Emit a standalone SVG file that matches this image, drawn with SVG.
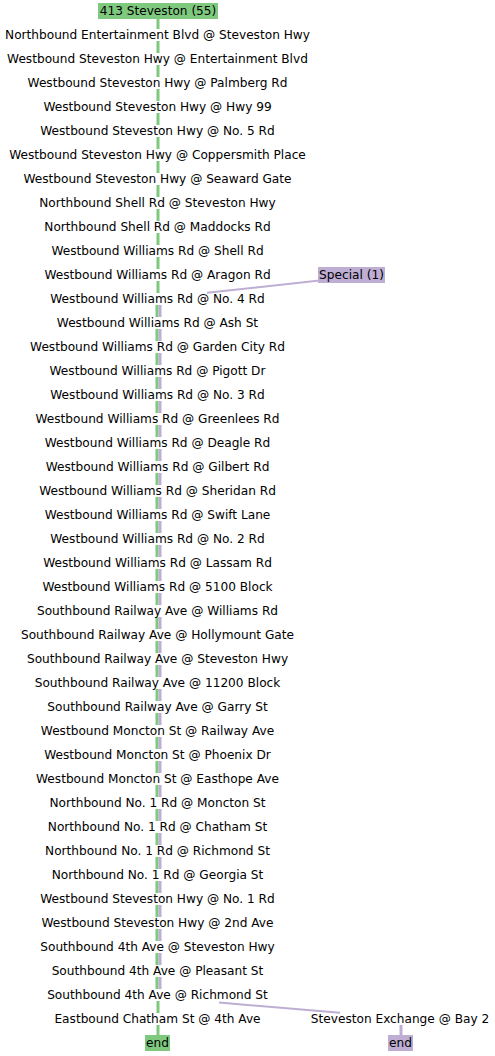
<svg xmlns="http://www.w3.org/2000/svg" width="495" height="1056" viewBox="0 0 495 1056">
<style>
text{font-family:"DejaVu Sans","Liberation Sans",sans-serif;font-size:12.15px;fill:#000;text-anchor:middle}
.g{stroke:#7fc97f;stroke-width:3;fill:none}
.p{stroke:#beaed4;stroke-width:3;fill:none}
.d{stroke:#beaed4;stroke-width:2;fill:none}
.m{fill:#fff}
.gb{fill:#7fc97f}
.pb{fill:#beaed4}
</style>
<rect width="495" height="1056" fill="#fff"/>
<g id="connectors">
<path class="g" d="M158,19V299H157V995H158V1035"/>
<path class="p" d="M160,299V995"/>
<path class="d" d="M207,292.8L351,277"/>
<path class="d" d="M219,1002.6L340,1012.7"/>
<path class="p" d="M401,1019V1035"/>
</g>
<g id="route-413">
<rect class="gb" x="98" y="3" width="120" height="16"/>
<text x="158" y="15.3">413 Steveston (55)</text>
</g>
<g id="special">
<rect class="pb" x="318" y="267" width="67" height="16"/>
<text x="351.5" y="279.3">Special (1)</text>
</g>
<g id="stops">
<g id="s1"><rect class="m" x="148" y="29" width="20" height="12"/><text x="157.5" y="39.3">Northbound Entertainment Blvd @ Steveston Hwy</text></g>
<g id="s2"><rect class="m" x="148" y="53" width="20" height="12"/><text x="157.5" y="63.3">Westbound Steveston Hwy @ Entertainment Blvd</text></g>
<g id="s3"><rect class="m" x="148" y="77" width="20" height="12"/><text x="157.5" y="87.3">Westbound Steveston Hwy @ Palmberg Rd</text></g>
<g id="s4"><rect class="m" x="148" y="101" width="20" height="12"/><text x="157.5" y="111.3">Westbound Steveston Hwy @ Hwy 99</text></g>
<g id="s5"><rect class="m" x="148" y="125" width="20" height="12"/><text x="157.5" y="135.3">Westbound Steveston Hwy @ No. 5 Rd</text></g>
<g id="s6"><rect class="m" x="148" y="149" width="20" height="12"/><text x="157.5" y="159.3">Westbound Steveston Hwy @ Coppersmith Place</text></g>
<g id="s7"><rect class="m" x="148" y="173" width="20" height="12"/><text x="157.5" y="183.3">Westbound Steveston Hwy @ Seaward Gate</text></g>
<g id="s8"><rect class="m" x="148" y="197" width="20" height="12"/><text x="157.5" y="207.3">Northbound Shell Rd @ Steveston Hwy</text></g>
<g id="s9"><rect class="m" x="148" y="221" width="20" height="12"/><text x="157.5" y="231.3">Northbound Shell Rd @ Maddocks Rd</text></g>
<g id="s10"><rect class="m" x="148" y="245" width="20" height="12"/><text x="157.5" y="255.3">Westbound Williams Rd @ Shell Rd</text></g>
<g id="s11"><rect class="m" x="148" y="269" width="20" height="12"/><text x="157.5" y="279.3">Westbound Williams Rd @ Aragon Rd</text></g>
<g id="s12"><rect class="m" x="148" y="293" width="20" height="12"/><text x="157.5" y="303.3">Westbound Williams Rd @ No. 4 Rd</text></g>
<g id="s13"><rect class="m" x="148" y="317" width="20" height="12"/><text x="157.5" y="327.3">Westbound Williams Rd @ Ash St</text></g>
<g id="s14"><rect class="m" x="148" y="341" width="20" height="12"/><text x="157.5" y="351.3">Westbound Williams Rd @ Garden City Rd</text></g>
<g id="s15"><rect class="m" x="148" y="365" width="20" height="12"/><text x="157.5" y="375.3">Westbound Williams Rd @ Pigott Dr</text></g>
<g id="s16"><rect class="m" x="148" y="389" width="20" height="12"/><text x="157.5" y="399.3">Westbound Williams Rd @ No. 3 Rd</text></g>
<g id="s17"><rect class="m" x="148" y="413" width="20" height="12"/><text x="157.5" y="423.3">Westbound Williams Rd @ Greenlees Rd</text></g>
<g id="s18"><rect class="m" x="148" y="437" width="20" height="12"/><text x="157.5" y="447.3">Westbound Williams Rd @ Deagle Rd</text></g>
<g id="s19"><rect class="m" x="148" y="461" width="20" height="12"/><text x="157.5" y="471.3">Westbound Williams Rd @ Gilbert Rd</text></g>
<g id="s20"><rect class="m" x="148" y="485" width="20" height="12"/><text x="157.5" y="495.3">Westbound Williams Rd @ Sheridan Rd</text></g>
<g id="s21"><rect class="m" x="148" y="509" width="20" height="12"/><text x="157.5" y="519.3">Westbound Williams Rd @ Swift Lane</text></g>
<g id="s22"><rect class="m" x="148" y="533" width="20" height="12"/><text x="157.5" y="543.3">Westbound Williams Rd @ No. 2 Rd</text></g>
<g id="s23"><rect class="m" x="148" y="557" width="20" height="12"/><text x="157.5" y="567.3">Westbound Williams Rd @ Lassam Rd</text></g>
<g id="s24"><rect class="m" x="148" y="581" width="20" height="12"/><text x="157.5" y="591.3">Westbound Williams Rd @ 5100 Block</text></g>
<g id="s25"><rect class="m" x="148" y="605" width="20" height="12"/><text x="157.5" y="615.3">Southbound Railway Ave @ Williams Rd</text></g>
<g id="s26"><rect class="m" x="148" y="629" width="20" height="12"/><text x="157.5" y="639.3">Southbound Railway Ave @ Hollymount Gate</text></g>
<g id="s27"><rect class="m" x="148" y="653" width="20" height="12"/><text x="157.5" y="663.3">Southbound Railway Ave @ Steveston Hwy</text></g>
<g id="s28"><rect class="m" x="148" y="677" width="20" height="12"/><text x="157.5" y="687.3">Southbound Railway Ave @ 11200 Block</text></g>
<g id="s29"><rect class="m" x="148" y="701" width="20" height="12"/><text x="157.5" y="711.3">Southbound Railway Ave @ Garry St</text></g>
<g id="s30"><rect class="m" x="148" y="725" width="20" height="12"/><text x="157.5" y="735.3">Westbound Moncton St @ Railway Ave</text></g>
<g id="s31"><rect class="m" x="148" y="749" width="20" height="12"/><text x="157.5" y="759.3">Westbound Moncton St @ Phoenix Dr</text></g>
<g id="s32"><rect class="m" x="148" y="773" width="20" height="12"/><text x="157.5" y="783.3">Westbound Moncton St @ Easthope Ave</text></g>
<g id="s33"><rect class="m" x="148" y="797" width="20" height="12"/><text x="157.5" y="807.3">Northbound No. 1 Rd @ Moncton St</text></g>
<g id="s34"><rect class="m" x="148" y="821" width="20" height="12"/><text x="157.5" y="831.3">Northbound No. 1 Rd @ Chatham St</text></g>
<g id="s35"><rect class="m" x="148" y="845" width="20" height="12"/><text x="157.5" y="855.3">Northbound No. 1 Rd @ Richmond St</text></g>
<g id="s36"><rect class="m" x="148" y="869" width="20" height="12"/><text x="157.5" y="879.3">Northbound No. 1 Rd @ Georgia St</text></g>
<g id="s37"><rect class="m" x="148" y="893" width="20" height="12"/><text x="157.5" y="903.3">Westbound Steveston Hwy @ No. 1 Rd</text></g>
<g id="s38"><rect class="m" x="148" y="917" width="20" height="12"/><text x="157.5" y="927.3">Westbound Steveston Hwy @ 2nd Ave</text></g>
<g id="s39"><rect class="m" x="148" y="941" width="20" height="12"/><text x="157.5" y="951.3">Southbound 4th Ave @ Steveston Hwy</text></g>
<g id="s40"><rect class="m" x="148" y="965" width="20" height="12"/><text x="157.5" y="975.3">Southbound 4th Ave @ Pleasant St</text></g>
<g id="s41"><rect class="m" x="148" y="989" width="20" height="12"/><text x="157.5" y="999.3">Southbound 4th Ave @ Richmond St</text></g>
<g id="s42"><rect class="m" x="148" y="1013" width="20" height="12"/><text x="157.5" y="1023.3">Eastbound Chatham St @ 4th Ave</text></g>
<g id="s43"><rect class="m" x="395" y="1013" width="12" height="12"/><text x="400" y="1023.3">Steveston Exchange @ Bay 2</text></g>
</g>
<g id="end-413">
<rect class="gb" x="145" y="1035" width="25" height="16"/>
<text x="157.5" y="1047.3">end</text>
</g>
<g id="end-special">
<rect class="pb" x="388" y="1035" width="25" height="16"/>
<text x="400.5" y="1047.3">end</text>
</g>
</svg>
